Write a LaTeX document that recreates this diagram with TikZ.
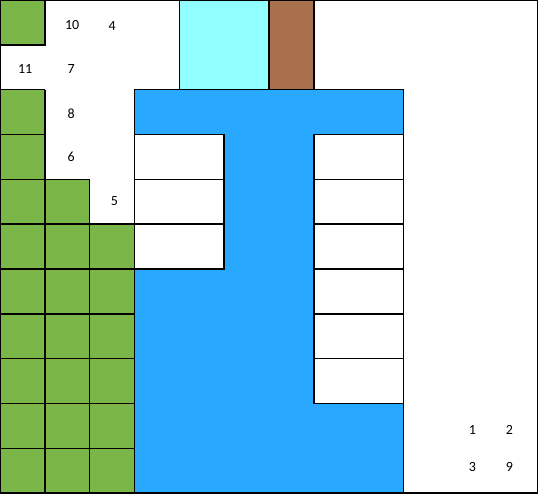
\documentclass[tikz,border=0pt]{standalone}
\usepackage{fontspec}
\setmainfont{Carlito}
\usepackage{xcolor}
\usepackage{tikz}

\definecolor{grass}{HTML}{7AB648}
\definecolor{pool}{HTML}{29A8FF}
\definecolor{sky}{HTML}{8FFFFF}
\definecolor{wood}{HTML}{A8704C}

\begin{document}
\begin{tikzpicture}[x=44.8pt, y=44.8pt, step=1, line width=1.5pt,
    lbl/.style={font=\fontsize{14}{16}\selectfont}]
    \useasboundingbox (0,0) rectangle (12,11);

    % Draw the green cells
    \fill[grass] (0,10) rectangle (1,11);
    \draw (0,10) rectangle (1,11);
    \fill[grass] (0,0) rectangle (1,9);
    \draw (0,0) grid (1,9);
    \fill[grass] (1,0) rectangle (2,7);
    \draw (1,0) grid (2,7);
    \fill[grass] (2,0) rectangle (3,6);
    \draw (2,0) grid (3,6);

    % Draw the boxes on top
    \filldraw[fill=sky] (4,9) rectangle (6,11);
    \filldraw[fill=wood] (6,9) rectangle (7,11);

    % Draw the blue area and the white rows in it
    \filldraw[fill=pool] (3,0) rectangle (9,9);
    \filldraw[fill=white, shift={(3,5)}, xstep=2, ystep=1] (0,0) rectangle (2,3) (0,0) grid (2,3);
    \filldraw[fill=white, shift={(7,2)}, xstep=2, ystep=1] (0,0) rectangle (2,6) (0,0) grid (2,6);

    % Outer frame
    \draw (9,0) -- (9,9);
    \draw (0,0) rectangle (12,11);

    % Place numbers
    \node[lbl] (n10) at (1.61,10.44) {10};
    \node[lbl] (n4) at (2.50,10.42) {4};
    \node[lbl] (n11) at (0.56,9.46) {11};
    \node[lbl] (n7) at (1.59,9.46) {7};
    \node[lbl] (n8) at (1.59,8.46) {8};
    \node[lbl] (n6) at (1.59,7.50) {6};
    \node[lbl] (n5) at (2.55,6.51) {5};
    \node[lbl] (n1) at (10.54,1.42) {1};
    \node[lbl] (n2) at (11.36,1.42) {2};
    \node[lbl] (n3) at (10.54,0.58) {3};
    \node[lbl] (n9) at (11.36,0.58) {9};
\end{tikzpicture}
\end{document}
